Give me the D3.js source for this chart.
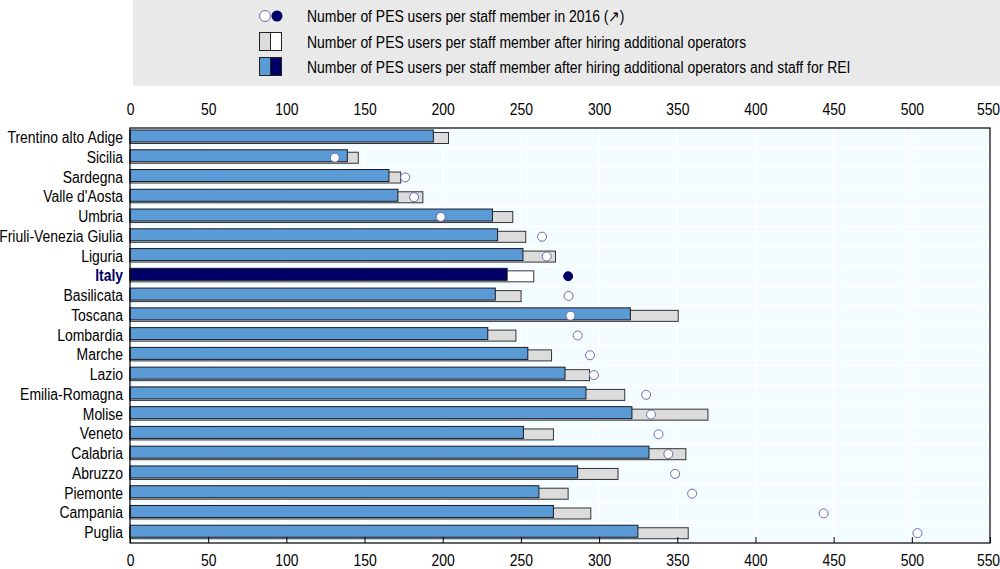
<!DOCTYPE html>
<html><head><meta charset="utf-8">
<script src="https://cdn.jsdelivr.net/npm/d3@7"></script>
<style>
body{margin:0;background:#fff;}
svg{display:block;font-family:"Liberation Sans Narrow","Arial Narrow","Liberation Sans",Arial,sans-serif;}
</style></head>
<body><svg id="c" width="1000" height="569"></svg>
<script>
const categories = ["Trentino alto Adige","Sicilia","Sardegna","Valle d'Aosta","Umbria","Friuli-Venezia Giulia","Liguria","Italy","Basilicata","Toscana","Lombardia","Marche","Lazio","Emilia-Romagna","Molise","Veneto","Calabria","Abruzzo","Piemonte","Campania","Puglia"];
const afterOperators = [203.7,146,173.1,187.3,244.8,253.1,272.1,258.2,250.1,350.6,246.8,269.6,293.9,316.4,369.6,270.8,355.5,312.1,280.2,294.7,357];
const afterREI = [194,139,165.6,171.3,231.8,235.1,251.3,241.2,233.6,320,228.8,254.4,278.2,291.6,321,251.6,331.9,286.3,261.5,270.8,324.8];
const users2016 = [null,131,176,181.7,198.7,263.5,266.5,280.2,280.5,281.7,286.3,294.2,296.7,330.1,333.2,338,344.3,348.6,359.5,443.6,503.6];
const xTicks = [0,50,100,150,200,250,300,350,400,450,500,550];
const legendLabels = ["Number of PES users per staff member in 2016 (\u2197)","Number of PES users per staff member after hiring additional operators","Number of PES users per staff member after hiring additional operators and staff for REI"];

const FS = 16, NARROW = 0.87;
const svg = d3.select("#c");
const L = 130, R = 990, T = 128, B = 543;
const x = d3.scaleLinear().domain([0,550]).range([L,R]);
const y = d3.scaleBand().domain(categories).range([T,B]).padding(0);
const bw = y.bandwidth();

function narrow(sel){
  sel.each(function(){
    const len = this.getComputedTextLength();
    d3.select(this).attr("textLength",len*NARROW).attr("lengthAdjust","spacingAndGlyphs");
  });
}

// legend
svg.append("rect").attr("x",133).attr("y",0).attr("width",867).attr("height",86).attr("fill","#e9e9e9");
const lg = svg.append("g");
lg.append("circle").attr("cx",265).attr("cy",16).attr("r",5.5).attr("fill","#fff").attr("stroke","#6b6bb5").attr("stroke-width",1);
lg.append("circle").attr("cx",277).attr("cy",16).attr("r",5.5).attr("fill","#000066");
lg.append("rect").attr("x",259.5).attr("y",32.5).attr("width",11).attr("height",18).attr("fill","#dcdcdc").attr("stroke","#222");
lg.append("rect").attr("x",270.5).attr("y",32.5).attr("width",11).attr("height",18).attr("fill","#fff").attr("stroke","#222");
lg.append("rect").attr("x",259.5).attr("y",57.5).attr("width",11).attr("height",18).attr("fill","#5b9bd5").attr("stroke","#222");
lg.append("rect").attr("x",270.5).attr("y",57.5).attr("width",11).attr("height",18).attr("fill","#000066").attr("stroke","#222");
legendLabels.forEach((t,i)=>{
  lg.append("text").attr("x",307).attr("y",[16,42,67][i]).attr("dy","0.35em").attr("font-size",FS).attr("fill","#000").text(t);
});
narrow(lg.selectAll("text"));

// plot background
svg.append("rect").attr("x",L).attr("y",T).attr("width",R-L).attr("height",B-T).attr("fill","#f3fdff");
// grid
svg.append("g").selectAll("line").data(xTicks).join("line")
  .attr("x1",d=>x(d)).attr("x2",d=>x(d)).attr("y1",T).attr("y2",B).attr("stroke","#fff").attr("stroke-width",1.5);
svg.append("g").selectAll("line").data(categories.slice(1)).join("line")
  .attr("x1",L).attr("x2",R).attr("y1",d=>y(d)).attr("y2",d=>y(d)).attr("stroke","#fff").attr("stroke-width",1.5);

// bars
const isItaly = d=>d==="Italy";
svg.append("g").selectAll("rect").data(categories).join("rect")
  .attr("x",x(0)).attr("y",d=>y(d)+4.5).attr("width",(d,i)=>x(afterOperators[i])-x(0)).attr("height",11)
  .attr("fill",d=>isItaly(d)?"#fff":"#dcdcdc").attr("stroke","#333").attr("stroke-width",1);
svg.append("g").selectAll("rect").data(categories).join("rect")
  .attr("x",x(0)).attr("y",d=>y(d)+2).attr("width",(d,i)=>x(afterREI[i])-x(0)).attr("height",12)
  .attr("fill",d=>isItaly(d)?"#000066":"#5b9bd5").attr("stroke","#1a1a2a").attr("stroke-width",1);

// dots
svg.append("g").selectAll("circle").data(categories.filter((d,i)=>users2016[i]!=null)).join("circle")
  .attr("cx",d=>x(users2016[categories.indexOf(d)])).attr("cy",d=>y(d)+bw/2).attr("r",4.5)
  .attr("fill",d=>isItaly(d)?"#000066":"#fff").attr("stroke",d=>isItaly(d)?"#000066":"#6b6bb5").attr("stroke-width",1);

// frame
svg.append("rect").attr("x",L).attr("y",T).attr("width",R-L).attr("height",B-T).attr("fill","none").attr("stroke","#000").attr("stroke-width",1.2);

// axes
const axTop = svg.append("g").attr("transform",`translate(0,${T})`).call(d3.axisTop(x).tickValues(xTicks).tickSize(0).tickPadding(13));
const axBot = svg.append("g").attr("transform",`translate(0,${B})`).call(d3.axisBottom(x).tickValues(xTicks).tickSizeInner(-6).tickSizeOuter(0).tickPadding(12));
[axTop,axBot].forEach(g=>{
  g.select(".domain").remove();
  g.selectAll("text").attr("font-size",FS).attr("fill","#000").attr("font-family",null)
    .attr("dx",d=>d===550?-2:0);
  g.selectAll("line").attr("stroke","#000");
  narrow(g.selectAll("text"));
});
const axLeft = svg.append("g").attr("transform",`translate(${L},0)`).call(d3.axisLeft(y).tickSize(0).tickPadding(7));
axLeft.select(".domain").remove();
axLeft.selectAll("text").attr("font-size",FS).attr("font-family",null)
  .attr("fill",d=>isItaly(d)?"#000066":"#000").attr("font-weight",d=>isItaly(d)?"bold":"normal");
narrow(axLeft.selectAll("text"));
</script></body></html>
